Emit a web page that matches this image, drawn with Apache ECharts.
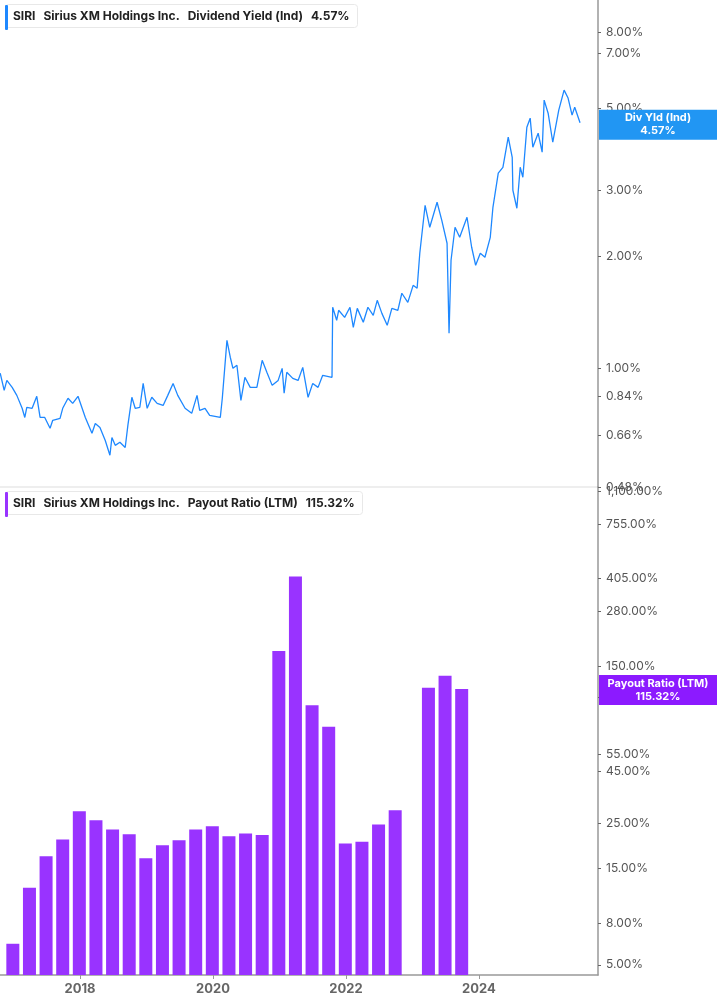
<!DOCTYPE html>
<html><head><meta charset="utf-8">
<script src="https://cdn.jsdelivr.net/npm/echarts@6/dist/echarts.min.js"></script>
<style>html,body{margin:0;padding:0;background:#fff}#c{width:717px;height:1005px}</style>
</head><body><div id="c"></div>
<script>
// Dividend yield (%), by decimal year
const yieldDates = [2016.80,2016.86,2016.90,2016.98,2017.05,2017.13,2017.17,2017.20,2017.28,2017.35,2017.40,2017.47,2017.55,2017.59,2017.70,2017.74,2017.82,2017.89,2017.97,2018.08,2018.18,2018.23,2018.30,2018.38,2018.45,2018.48,2018.53,2018.60,2018.68,2018.72,2018.78,2018.83,2018.90,2018.95,2019.01,2019.08,2019.16,2019.25,2019.32,2019.40,2019.47,2019.58,2019.68,2019.76,2019.80,2019.88,2019.95,2020.11,2020.14,2020.21,2020.26,2020.30,2020.36,2020.42,2020.48,2020.56,2020.66,2020.74,2020.81,2020.89,2020.98,2021.04,2021.07,2021.11,2021.20,2021.28,2021.35,2021.43,2021.50,2021.58,2021.65,2021.79,2021.80,2021.86,2021.89,2021.91,2021.98,2022.06,2022.11,2022.17,2022.26,2022.33,2022.41,2022.47,2022.54,2022.62,2022.69,2022.78,2022.84,2022.93,2023.01,2023.07,2023.11,2023.19,2023.26,2023.37,2023.44,2023.52,2023.55,2023.58,2023.64,2023.71,2023.82,2023.89,2023.95,2024.02,2024.09,2024.17,2024.21,2024.29,2024.36,2024.44,2024.50,2024.51,2024.57,2024.62,2024.66,2024.72,2024.77,2024.81,2024.89,2024.95,2024.98,2025.04,2025.11,2025.20,2025.28,2025.34,2025.40,2025.44,2025.52];
const yieldValues = [0.970,0.873,0.928,0.889,0.846,0.781,0.738,0.786,0.781,0.841,0.738,0.738,0.690,0.725,0.734,0.781,0.831,0.805,0.841,0.738,0.669,0.711,0.694,0.640,0.584,0.652,0.621,0.633,0.613,0.703,0.836,0.781,0.786,0.911,0.781,0.836,0.805,0.795,0.846,0.911,0.846,0.781,0.757,0.846,0.771,0.781,0.748,0.738,0.831,1.189,1.071,1.000,1.019,0.820,0.946,0.889,0.889,1.051,0.976,0.900,0.928,1.000,0.857,0.976,0.940,0.928,1.006,0.836,0.911,0.889,0.958,0.946,1.459,1.346,1.432,1.449,1.371,1.459,1.289,1.449,1.330,1.459,1.388,1.523,1.405,1.305,1.449,1.432,1.591,1.504,1.671,1.641,2.038,2.742,2.393,2.794,2.500,2.168,1.242,1.951,2.393,2.249,2.546,2.115,1.892,2.038,1.988,2.249,2.708,3.344,3.468,4.178,3.690,3.009,2.692,3.468,3.260,4.444,4.699,3.927,4.283,3.808,5.254,4.845,4.049,4.938,5.589,5.321,4.788,5.030,4.570];
// Payout ratio (LTM, %), quarterly
const payoutDates = [2016.99,2017.24,2017.49,2017.74,2017.99,2018.24,2018.49,2018.74,2018.99,2019.24,2019.49,2019.74,2019.99,2020.24,2020.49,2020.74,2020.99,2021.24,2021.49,2021.74,2021.99,2022.24,2022.49,2022.74,2023.24,2023.49,2023.74];
const payoutValues = [6.35,12.0,17.2,20.8,28.7,25.9,23.3,22.1,16.8,19.5,20.6,23.3,24.2,21.6,22.3,21.9,178,415,96,75,19.9,20.3,24.7,29.0,117,134,115.32];
const yieldTicks = [0.48,0.66,0.84,1.00,2.00,3.00,5.00,7.00,8.00];
const payoutTicks = [5,8,15,25,45,55,105,150,280,405,755,1100];
const yearTicks = [2018,2020,2022,2024];

const L = Math.log10;
const fmt = v => Number(Math.pow(10, v).toFixed(2)).toLocaleString('en-US',{minimumFractionDigits:2,maximumFractionDigits:2}) + '%';
const xMin = 2016.797, xMax = 2025.79;
const axisLbl = {color:'#555', fontSize:12, fontFamily:'Inter', margin:8, formatter: fmt};
const chart = echarts.init(document.getElementById('c'), null, {renderer:'canvas'});
const tick = {show:true, length:3, lineStyle:{color:'#666'}};
const aLine = {show:true, lineStyle:{color:'#999', width:1.5}};
const rich = {b:{fontWeight:'bold',fontSize:12,color:'#222',fontFamily:'Inter',padding:[0,8,0,0]}, n:{fontSize:12,color:'#222',fontFamily:'Inter',padding:[0,8,0,0]}, v:{fontWeight:'bold',fontSize:12,color:'#222',fontFamily:'Inter'}};
chart.setOption({
  animation:false,
  grid:[{left:0, right:119, top:0, height:487},{left:0, right:119, top:487, bottom:30}],
  xAxis:[
    {type:'value', gridIndex:0, min:xMin, max:xMax, show:false},
    {type:'value', gridIndex:1, min:xMin, max:xMax, splitLine:{show:false},
     axisLine:{lineStyle:{color:'#999', width:1.5}}, axisTick:{show:true, customValues:yearTicks, length:4, lineStyle:{color:'#999'}},
     axisLabel:{customValues:yearTicks, color:'#666', fontWeight:'bold', fontSize:13, fontFamily:'Inter', margin:8, formatter: v=>String(v)}}
  ],
  yAxis:[
    {type:'value', position:'right', gridIndex:0, min:L(0.48), max:L(9.76), splitLine:{show:false}, axisLine:aLine,
      axisTick:Object.assign({customValues:yieldTicks.map(L)}, tick),
      axisLabel:Object.assign({customValues:yieldTicks.map(L)}, axisLbl)},
    {type:'value', position:'right', gridIndex:1, min:L(4.45), max:L(1150), splitLine:{show:false}, axisLine:aLine,
      axisTick:Object.assign({customValues:payoutTicks.map(L)}, tick),
      axisLabel:Object.assign({customValues:payoutTicks.map(L)}, axisLbl)}
  ],
  title:[
    {left:5, top:4, padding:[6,8,6,8], backgroundColor:'#fff', borderColor:'#e8e8e8', borderWidth:1, borderRadius:3,
     text:'{b|SIRI}{b|Sirius XM Holdings Inc.}{n|Dividend Yield (Ind)}{v|4.57%}', textStyle:{rich}},
    {left:5, top:491, padding:[6,8,6,8], backgroundColor:'#fff', borderColor:'#e8e8e8', borderWidth:1, borderRadius:3,
     text:'{b|SIRI}{b|Sirius XM Holdings Inc.}{n|Payout Ratio (LTM)}{v|115.32%}', textStyle:{rich}}
  ],
  series:[
    {type:'line', xAxisIndex:0, yAxisIndex:0, symbol:'none', data: yieldDates.map((d,i)=>[d, L(yieldValues[i])]),
     lineStyle:{color:'#1e88ff', width:1.3}},
    {type:'bar', xAxisIndex:1, yAxisIndex:1, barWidth:13, data: payoutDates.map((d,i)=>[d, L(payoutValues[i])]),
     itemStyle:{color:'#9933ff'}}
  ]
});
const yB = chart.convertToPixel({yAxisIndex:0}, L(yieldValues[yieldValues.length-1]));
const yP = chart.convertToPixel({yAxisIndex:1}, L(payoutValues[payoutValues.length-1]));
chart.setOption({graphic:[
  {type:'line', shape:{x1:0,y1:487,x2:598,y2:487}, style:{stroke:'#ddd', lineWidth:1}},
  {type:'rect', shape:{x:5,y:5,width:3,height:25, r:1}, style:{fill:'#1e88ff'}, z:100},
  {type:'rect', shape:{x:5,y:492,width:3,height:25, r:1}, style:{fill:'#9933ff'}, z:100},
  {type:'rect', shape:{x:599,y:yB-13,width:118,height:30}, style:{fill:'#2196f3'}, z:100},
  {type:'text', x:658, y:yB+2, style:{text:'Div Yld (Ind)\n4.57%', fill:'#fff', font:'bold 11px Inter', align:'center', verticalAlign:'middle', lineHeight:13}, z:101},
  {type:'rect', shape:{x:599,y:yP-14,width:118,height:30}, style:{fill:'#8c1aff'}, z:100},
  {type:'text', x:658, y:yP+1, style:{text:'Payout Ratio (LTM)\n115.32%', fill:'#fff', font:'bold 11px Inter', align:'center', verticalAlign:'middle', lineHeight:13}, z:101}
]});
</script></body></html>
